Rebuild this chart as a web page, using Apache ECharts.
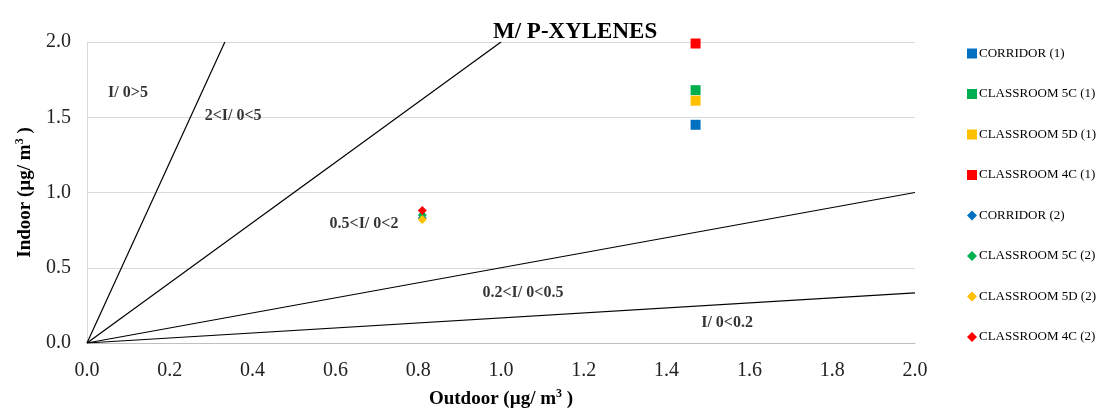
<!DOCTYPE html>
<html>
<head>
<meta charset="utf-8">
<script src="https://cdn.jsdelivr.net/npm/echarts@6/dist/echarts.min.js"></script>
<style>
  html, body { margin: 0; padding: 0; background: #fff; }
  #chart { width: 1102px; height: 410px; }
</style>
</head>
<body>
<div id="chart"></div>
<script>
const FONT = '"Liberation Serif", "Times New Roman", serif'

// measurements, outdoor vs indoor
const seriesNames = [
  'CORRIDOR (1)', 'CLASSROOM 5C (1)', 'CLASSROOM 5D (1)', 'CLASSROOM 4C (1)',
  'CORRIDOR (2)', 'CLASSROOM 5C (2)', 'CLASSROOM 5D (2)', 'CLASSROOM 4C (2)'
]
const seriesColors = ['#0070C0', '#00B050', '#FFC000', '#FF0000', '#0070C0', '#00B050', '#FFC000', '#FF0000']
const outdoorValues = [1.47, 1.47, 1.47, 1.47, 0.81, 0.81, 0.81, 0.81]
const indoorValues = [1.45, 1.68, 1.61, 1.99, 0.83, 0.85, 0.82, 0.88]

// ratio reference lines (end points)
const ratioLines = [
  [[0, 0], [0.333, 2]],
  [[0, 0], [1.0, 2]],
  [[0, 0], [2, 1.0]],
  [[0, 0], [2, 0.333]]
]

// zone labels
const zoneLabels = ['I/ 0>5', '2<I/ 0<5', '0.5<I/ 0<2', '0.2<I/ 0<0.5', 'I/ 0<0.2']
const zoneX = [0.099, 0.353, 0.669, 1.053, 1.546]
const zoneY = [1.66, 1.51, 0.79, 0.33, 0.133]

const chart = echarts.init(document.getElementById('chart'))

const series = []

ratioLines.forEach((pts, i) => {
  series.push({
    name: 'ratio' + i,
    type: 'line',
    data: pts,
    symbol: 'none',
    silent: true,
    lineStyle: { color: '#000', width: 1.2 },
    z: 1
  })
})

series.push({
  name: 'zones',
  type: 'scatter',
  symbol: 'circle',
  symbolSize: 2,
  silent: true,
  itemStyle: { color: 'rgba(0,0,0,0)' },
  data: zoneLabels.map((t, i) => ({ value: [zoneX[i], zoneY[i]], name: t })),
  label: {
    show: true,
    position: 'inside',
    formatter: p => p.name,
    fontFamily: FONT,
    fontWeight: 'bold',
    fontSize: 16,
    color: '#000'
  },
  labelLayout: { hideOverlap: false },
  z: 2
})

seriesNames.forEach((name, i) => {
  series.push({
    name: name,
    type: 'scatter',
    symbol: i < 4 ? 'rect' : 'diamond',
    symbolSize: i < 4 ? 10 : 9,
    itemStyle: { color: seriesColors[i], opacity: 1 },
    data: [[outdoorValues[i], indoorValues[i]]],
    z: 3
  })
})

const option = {
  animation: false,
  backgroundColor: '#fff',
  title: {
    text: 'M/ P-XYLENES',
    left: 488,
    top: 16,
    textStyle: { fontFamily: FONT, fontWeight: 'bold', fontSize: 23, color: '#000' }
  },
  legend: {
    orient: 'vertical',
    left: 962,
    top: 42,
    itemWidth: 10,
    itemHeight: 10,
    itemGap: 27.5,
    data: seriesNames.map((n, i) => ({ name: n, icon: i < 4 ? 'rect' : 'diamond', itemStyle: { opacity: 1 } })),
    textStyle: { fontFamily: FONT, fontSize: 13, color: '#000', padding: [0, 0, 0, -3] }
  },
  grid: { left: 87, right: 187, top: 42, bottom: 67, outerBoundsMode: 'none' },
  xAxis: {
    type: 'value',
    min: 0,
    max: 2,
    interval: 0.2,
    name: '{b|Outdoor (µg/ m}{s|3}{b| )}',
    nameLocation: 'middle',
    nameGap: 45,
    nameTextStyle: {
      rich: {
        b: { fontFamily: FONT, fontWeight: 'bold', fontSize: 19, color: '#000' },
        s: { fontFamily: FONT, fontWeight: 'bold', fontSize: 12, color: '#000', verticalAlign: 'top', padding: [0, 0, 10, 0] }
      }
    },
    axisLine: { lineStyle: { color: '#BFBFBF' } },
    axisTick: { show: false },
    splitLine: { show: false },
    axisLabel: {
      fontFamily: FONT, fontSize: 20, color: '#222', margin: 18,
      formatter: v => v.toFixed(1)
    }
  },
  yAxis: {
    type: 'value',
    min: 0,
    max: 2,
    interval: 0.5,
    name: '{b|Indoor (µg/ m}{s|3}{b| )}',
    nameLocation: 'middle',
    nameGap: 51,
    nameTextStyle: {
      rich: {
        b: { fontFamily: FONT, fontWeight: 'bold', fontSize: 19, color: '#000' },
        s: { fontFamily: FONT, fontWeight: 'bold', fontSize: 12, color: '#000', verticalAlign: 'top', padding: [0, 0, 10, 0] }
      }
    },
    axisLine: { show: true, lineStyle: { color: '#D9D9D9' } },
    axisTick: { show: false },
    splitLine: { lineStyle: { color: '#D9D9D9' } },
    axisLabel: {
      fontFamily: FONT, fontSize: 20, color: '#222', margin: 16,
      formatter: v => v.toFixed(1)
    }
  },
  series: series
}

chart.setOption(option)
</script>
</body>
</html>
